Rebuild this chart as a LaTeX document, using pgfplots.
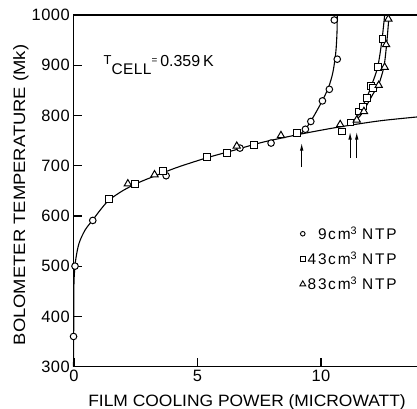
\documentclass[border=0pt]{standalone}
\usepackage{fontspec}
\setmainfont{Liberation Sans}
\newfontfamily\lsA[LetterSpace=3]{Liberation Sans}
\newfontfamily\lsC[LetterSpace=12]{Liberation Sans}
\usepackage{pgfplots}
\pgfplotsset{compat=1.18}
\usetikzlibrary{arrows.meta}
\begin{document}
\begin{tikzpicture}
\begin{axis}[
  name=ax,
  scale only axis, width=343.8bp, height=351.7bp,
  xmin=-0.03, xmax=13.89, ymin=300, ymax=1000,
  separate axis lines,
  axis x line=box, axis y line=left,
  x axis line style={-}, y axis line style={-},
  axis line style={line width=1.2bp},
  xtick={0,5,10}, ytick={300,400,...,1000},
  xtick pos=bottom, ytick pos=left,
  tick align=inside, major tick length=9bp,
  tick style={line width=1.2bp, black},
  /pgf/number format/assume math mode=true,
  /pgf/number format/set thousands separator={},
  ticklabel style={font=\lsA\fontsize{16.5}{16.5}\selectfont},
  xlabel={\scalebox{1.06}[1]{\MakeUppercase{Film cooling power (microwatt)}}},
  ylabel={\scalebox{1.12}[1]{\MakeUppercase{Bolometer temperature (m}k)}},
  every axis x label/.style={at={(axis description cs:0.5055,-0.1137)}, anchor=base, font=\fontsize{16.5}{16.5}\selectfont},
  every axis y label/.style={at={(axis description cs:-0.140,0.488)}, anchor=base, rotate=90, font=\fontsize{16.5}{16.5}\selectfont},
  clip=false,
  legend cell align=right,
  legend style={draw=none, fill=none, at={(axis cs:13.28,587)}, anchor=north east,
    font=\lsC\fontsize{15.5}{15.5}\selectfont, row sep=7bp},
]
% curves
\addplot[line width=1.1bp, smooth, tension=0.5, forget plot] coordinates {
(-0.02,300)(-0.01,400)(0.0,470)(0.06,510)(0.2,545)(0.45,572)(0.76,592)(1.1,614)(1.43,632)(2,651)(2.6,666)(3.3,680)(4.2,697)(5.4,716)(6.5,731)(7.5,745)(8.5,756)(9.5,766)(10.5,775)(11.5,783)(12.5,790)(13.89,797)};
\addplot[line width=1.1bp, smooth, tension=0.5, forget plot] coordinates {
(9.2,764)(9.45,778)(9.75,802)(10.05,829)(10.3,855)(10.48,885)(10.6,925)(10.65,965)(10.66,1000)};
\addplot[line width=1.1bp, smooth, tension=0.5, forget plot] coordinates {
(11.1,780)(11.4,792)(11.6,810)(11.85,835)(12.05,860)(12.3,897)(12.47,950)(12.58,1000)};
\addplot[line width=1.1bp, smooth, tension=0.5, forget plot] coordinates {
(11.35,787)(11.6,800)(11.85,820)(12.1,842)(12.34,862)(12.55,897)(12.66,942)(12.76,1000)};
% arrows
\addplot[line width=1.1bp, -{Latex[length=8bp,width=3.5bp]}, forget plot] coordinates {(9.22,697)(9.22,746)};
\addplot[line width=1.1bp, -{Latex[length=8bp,width=3.5bp]}, forget plot] coordinates {(11.18,715)(11.18,768)};
\addplot[line width=1.1bp, -{Latex[length=8bp,width=3.5bp]}, forget plot] coordinates {(11.45,715)(11.45,768)};
% data: 9 cm3 (circles)
\addplot[only marks, mark=*, mark size=3.3bp, mark options={fill=white, draw=black, line width=1bp}, forget plot] coordinates {
(-0.02,360)(0.04,500)(0.76,591)(3.73,680)(6.72,735)(7.98,745)(9.37,772.5)(9.59,788)(10.06,829)(10.34,852)(10.66,912)(10.54,990)};
% 43 cm3 (squares)
\addplot[only marks, mark=square*, mark size=3.4bp, mark options={fill=white, draw=black, line width=1bp}, forget plot] coordinates {
(1.43,633)(2.47,664)(3.59,689.5)(5.38,718)(6.21,725)(7.30,741)(9.02,765)(10.84,768)(11.20,786)(11.52,808)(11.70,818)(11.85,835)(12.03,858)(12.12,855)(12.32,897)(12.49,952)};
% 83 cm3 (triangles)
\addplot[only marks, mark=triangle*, mark size=4.2bp, mark options={fill=white, draw=black, line width=1bp}, forget plot] coordinates {
(2.18,664)(3.26,682)(6.59,739)(8.38,760)(10.78,782)(11.45,791)(11.74,808)(12.34,860)(12.58,896)(12.64,941)(12.73,992)};
\addlegendimage{only marks, mark=*, mark size=2.3bp, mark options={fill=white, draw=black, line width=0.9bp}}
\addlegendentry{9\hspace{1.5bp}cm\textsuperscript{3}\hspace{5bp}NTP}
\addlegendimage{only marks, mark=square*, mark size=2.6bp, mark options={fill=white, draw=black, line width=0.9bp}}
\addlegendentry{43\hspace{1.5bp}cm\textsuperscript{3}\hspace{5bp}NTP}
\addlegendimage{only marks, mark=triangle*, mark size=3.4bp, mark options={fill=white, draw=black, line width=0.9bp}}
\addlegendentry{83\hspace{1.5bp}cm\textsuperscript{3}\hspace{5bp}NTP}
\node[anchor=base west, inner sep=0pt] at (axis cs:1.19,897) {\raisebox{2.4bp}{\fontsize{13}{13}\selectfont T}\raisebox{-7.6bp}{\lsA\fontsize{15.5}{15.5}\selectfont CELL}\raisebox{3bp}{\fontsize{10}{10}\selectfont =}\hspace{3bp}\fontsize{16}{16}\selectfont 0.359\hspace{3bp}K};
\end{axis}
\pgfresetboundingbox
\path[use as bounding box] ([xshift=-73.3bp,yshift=-42.3bp]ax.south west) rectangle ([yshift=15bp]ax.north east);
\end{tikzpicture}
\end{document}
